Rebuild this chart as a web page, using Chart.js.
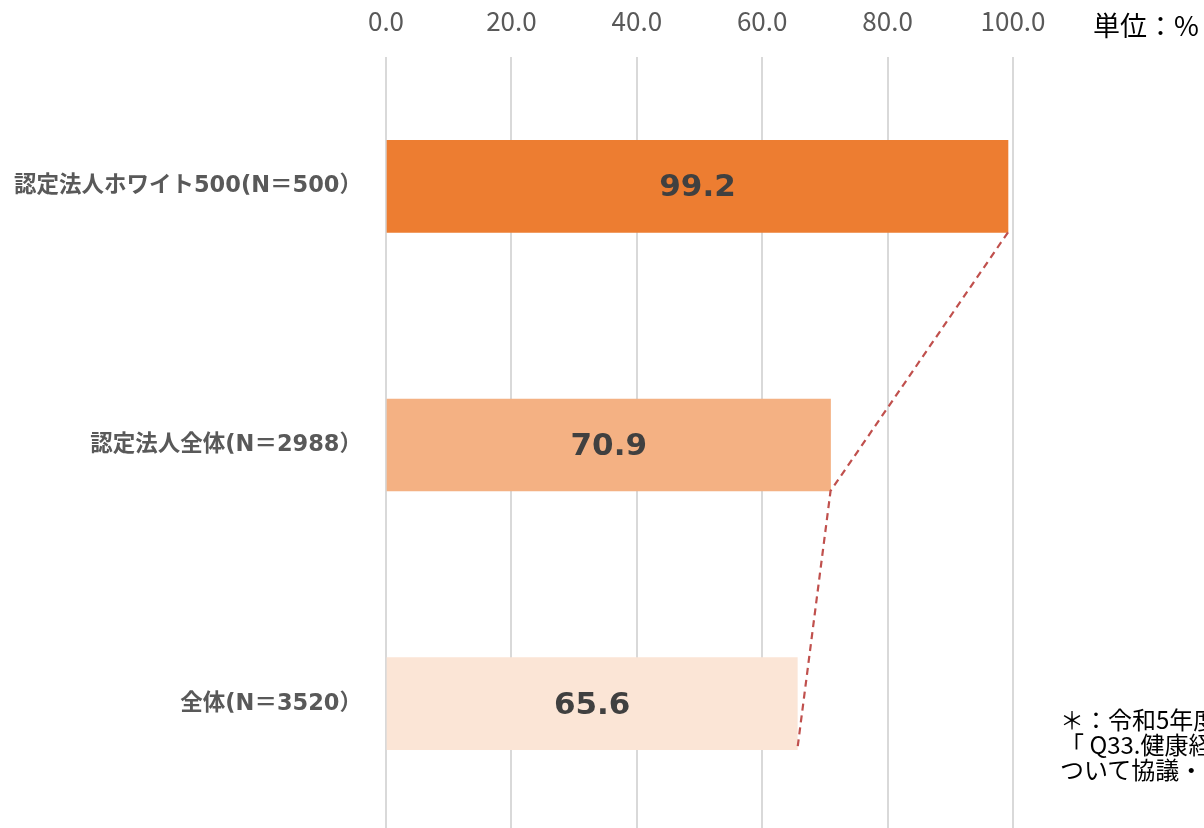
<!DOCTYPE html>
<html>
<head>
<meta charset="utf-8">
<script src="https://cdn.jsdelivr.net/npm/chart.js@4.4.1/dist/chart.umd.min.js"></script>
<style>
  html, body { margin: 0; padding: 0; background: #fff; width: 1204px; height: 828px; overflow: hidden; position: relative; }
  #c { position: absolute; left: 0; top: 0; }
  .unit { position: absolute; left: 1093px; top: 5px; font: 27px "Noto Sans CJK JP", sans-serif; color: #000; white-space: nowrap; }
  .note { position: absolute; left: 1060px; top: 706px; font: 24px/25px "Noto Sans CJK JP", sans-serif; color: #000; white-space: nowrap; }
</style>
</head>
<body>
<canvas id="c" width="1204" height="833"></canvas>
<div class="unit">単位：%</div>
<div class="note">＊：令和5年度健康経営度調査<br>「 Q33.健康経営の推進に<br>ついて協議・連携している</div>
<script>
const categories = ["認定法人ホワイト500(N＝500）", "認定法人全体(N＝2988）", "全体(N＝3520）"];
const values = [99.2, 70.9, 65.6];
const barColors = ["#ED7D31", "#F4B183", "#FBE5D6"];
const tickValues = [0, 20, 40, 60, 80, 100];

const overlay = {
  id: 'overlay',
  afterDatasetsDraw(chart) {
    const ctx = chart.ctx;
    const meta = chart.getDatasetMeta(0);
    const xs = chart.scales.x;
    ctx.save();
    ctx.strokeStyle = "#C0504D";
    ctx.lineWidth = 2.2;
    ctx.setLineDash([7, 5]);
    ctx.beginPath();
    meta.data.forEach((el, i) => {
      const x = xs.getPixelForValue(values[i]);
      const y = el.y + el.height / 2;
      if (i === 0) ctx.moveTo(x, y); else ctx.lineTo(x, y);
    });
    ctx.stroke();
    ctx.restore();
    ctx.save();
    ctx.font = 'bold 31px "DejaVu Sans", "Noto Sans CJK JP", sans-serif';
    ctx.fillStyle = "#404040";
    ctx.textAlign = "center";
    ctx.textBaseline = "middle";
    meta.data.forEach((el, i) => {
      const cx = (el.base + el.x) / 2;
      ctx.fillText(values[i].toFixed(1), cx, el.y + 2);
    });
    ctx.restore();
  }
};

new Chart(document.getElementById('c'), {
  type: 'bar',
  data: {
    labels: categories,
    datasets: [{
      data: values,
      backgroundColor: barColors,
      borderWidth: 0,
      barThickness: 92
    }]
  },
  options: {
    indexAxis: 'y',
    responsive: false,
    animation: false,
    layout: { padding: { left: 0, right: 191, top: 0, bottom: 0 } },
    plugins: { legend: { display: false }, tooltip: { enabled: false } },
    scales: {
      x: {
        position: 'top',
        min: 0, max: 100,
        afterBuildTicks: (s) => { s.ticks = tickValues.map(v => ({ value: v })); },
        afterFit: (s) => { s.height = 57; },
        border: { display: false },
        grid: { color: "#D9D9D9", lineWidth: 2, drawTicks: false },
        ticks: {
          callback: (v) => Number(v).toFixed(1),
          color: "#595959",
          font: { family: '"Noto Sans CJK JP", sans-serif', size: 26 },
          padding: 20
        }
      },
      y: {
        afterFit: (s) => { s.width = 386; s.paddingTop = 0; s.paddingBottom = 0; },
        border: { display: false },
        grid: { display: false, drawTicks: false },
        ticks: {
          color: "#595959",
          font: { family: '"DejaVu Sans", "Noto Sans CJK JP", sans-serif', size: 22.5, weight: 'bold' },
          padding: 24
        }
      }
    }
  },
  plugins: [overlay]
});
</script>
</body>
</html>
